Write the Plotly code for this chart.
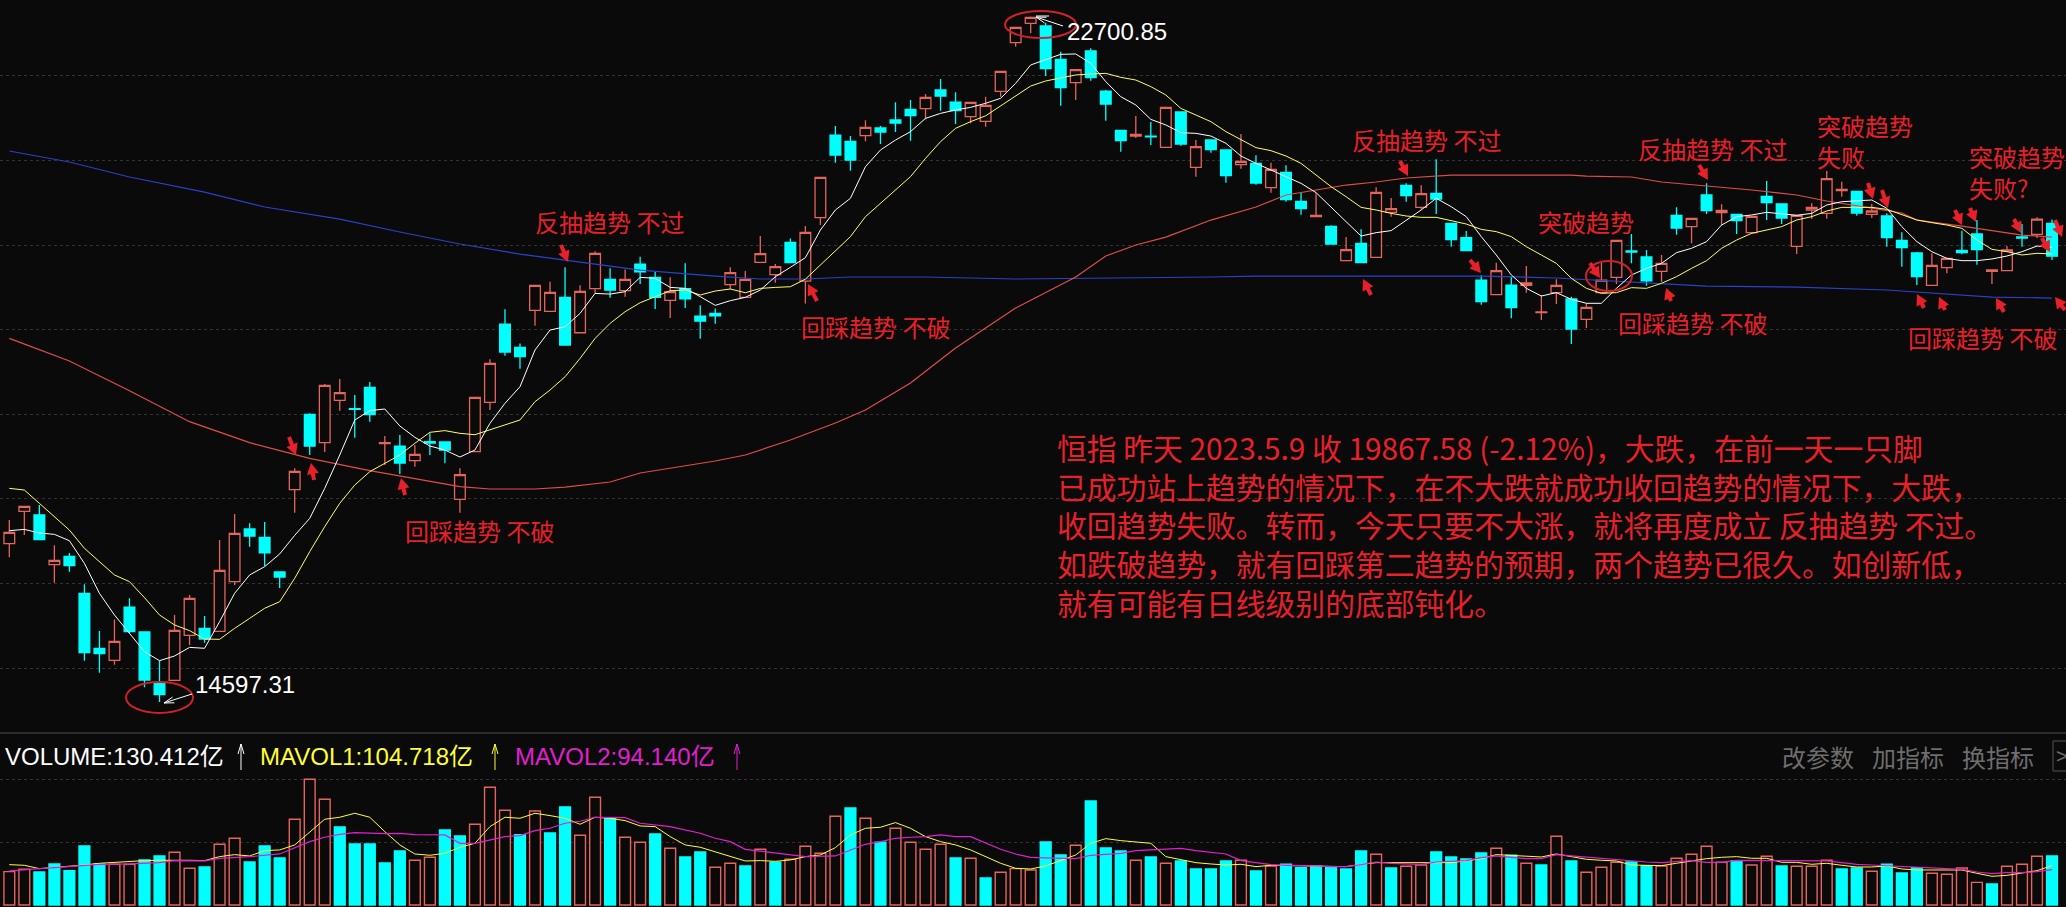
import math

import plotly.graph_objects as go

W, H = 2066, 907
BG = "#0a0a0a"
UP = "#e5645c"
DOWN = "#00ffff"
NOTE = "#e8202a"
CJK = "Noto Sans CJK SC, Liberation Sans, sans-serif"
NUM = "Liberation Sans, Noto Sans CJK SC, sans-serif"

# Daily candles, Hang Seng Index
opens = [
    16470, 16852, 16809, 16222, 16320, 15883, 15233, 15091, 15721, 15426,
    14819, 14854, 15386, 15469, 15434, 16021, 16643, 16545, 16135, 17108,
    17999, 17664, 18164, 18066, 18318, 17652, 17624, 17451, 17675, 17672,
    16994, 17557, 18140, 19066, 18790, 19227, 19216, 19381, 18963, 19484,
    19594, 19460, 19775, 19618, 19346, 19484, 19160, 19192, 19531, 19381,
    19795, 19649, 20031, 19574, 20323, 21300, 21225, 21292, 21383, 21478,
    21604, 21612, 21832, 21690, 21517, 21462, 21816, 22392, 22620, 22589,
    22195, 21919, 22293, 21820, 21355, 21288, 21288, 21155, 21572, 20918,
    21241, 21123, 20950, 20965, 20678, 20859, 20516, 20335, 20221, 19815,
    20020, 19854, 20386, 20705, 20445, 20611, 20256, 20087, 19586, 19413,
    19527, 19523, 19200, 19437, 19362, 19121, 19437, 19618, 19929, 19858,
    19689, 20351, 20217, 20591, 20382, 20363, 20146, 20575, 20485, 19984,
    20414, 20374, 20642, 20634, 20363, 20343, 20055, 19906, 19523, 19732,
    19937, 20130, 19689, 19697, 20095, 20126, 20256,
]
highs = [
    16750, 16911, 16927, 16450, 16360, 15989, 15438, 15575, 15824, 15426,
    15087, 15627, 15863, 15615, 16513, 16821, 16710, 16726, 16135, 17360,
    18010, 18357, 18416, 18227, 18381, 17742, 17754, 17636, 17774, 17672,
    17360, 18200, 18649, 19240, 18837, 19523, 19566, 19736, 19523, 19925,
    19724, 19712, 19862, 19684, 19618, 19783, 19287, 19251, 19736, 19692,
    20106, 19775, 20078, 20224, 20800, 21407, 21288, 21474, 21407, 21686,
    21714, 21785, 21962, 21805, 21686, 21753, 22053, 22573, 22700.85, 22628,
    22285, 22073, 22325, 21832, 21355, 21525, 21454, 21635, 21572, 21241,
    21241, 21123, 21312, 21060, 20973, 20942, 20619, 20611, 20233, 20095,
    20185, 20682, 20556, 20729, 20705, 21013, 20256, 20166, 19642, 19791,
    19626, 19752, 19409, 19594, 19389, 19311, 19795, 20055, 20130, 19941,
    19882, 20445, 20315, 20729, 20481, 20363, 20339, 20757, 20485, 20351,
    20493, 20875, 20749, 20634, 20485, 20374, 20150, 19917, 19902, 19842,
    20170, 20296, 19705, 19988, 20248, 20327, 20303,
]
lows = [
    16308, 16572, 16517, 16009, 16139, 15087, 14945, 15040, 15410, 14772,
    14597.31, 14854, 15272, 15300, 15434, 15981, 16434, 16206, 15946, 16836,
    17518, 17553, 18042, 17723, 17912, 17400, 17293, 17380, 17518, 17419,
    16836, 17557, 18050, 18692, 18538, 19046, 19216, 18810, 18963, 19428,
    19377, 19389, 19539, 19243, 19137, 19255, 18893, 19070, 19476, 19381,
    19795, 19554, 19791, 19310, 20236, 20973, 20879, 21225, 21194, 21336,
    21233, 21485, 21588, 21430, 21438, 21399, 21753, 22344, 22502, 21998,
    21647, 21714, 21943, 21470, 21103, 21265, 21182, 21155, 21174, 20808,
    21091, 20737, 20902, 20713, 20619, 20512, 20359, 20335, 20012, 19815,
    19791, 19854, 20335, 20512, 20422, 20367, 19980, 19925, 19295, 19413,
    19133, 19437, 19114, 19303, 18830, 19019, 19429, 19539, 19783, 19519,
    19563, 20122, 20020, 20367, 20236, 20130, 20130, 20296, 20248, 19894,
    20311, 20311, 20571, 20347, 20319, 19980, 19744, 19527, 19523, 19665,
    19890, 19768, 19539, 19697, 19980, 20083, 19823,
]
closes = [
    16604, 16911, 16517, 16273, 16210, 15181, 15170, 15315, 15430, 14858,
    14685, 15445, 15824, 15343, 16155, 16592, 16560, 16360, 16076, 17325,
    17624, 18341, 18255, 18058, 17995, 17664, 17423, 17526, 17660, 17577,
    17285, 18200, 18601, 18735, 18680, 19523, 19440, 18818, 19452, 19901,
    19468, 19594, 19684, 19381, 19448, 19365, 19101, 19164, 19673, 19594,
    19897, 19744, 19791, 20149, 20800, 21064, 21005, 21391, 21336, 21442,
    21529, 21746, 21761, 21588, 21686, 21651, 22053, 22573, 22691, 22084,
    21860, 22073, 21978, 21667, 21233, 21308, 21277, 21627, 21194, 21162,
    21127, 20820, 20989, 20733, 20894, 20536, 20430, 20351, 20012, 19945,
    19791, 20623, 20430, 20583, 20607, 20544, 20063, 19933, 19330, 19697,
    19259, 19551, 19208, 19523, 19007, 19263, 19586, 20055, 19917, 19575,
    19783, 20201, 20315, 20406, 20410, 20288, 20339, 20500, 20319, 20351,
    20445, 20784, 20658, 20378, 20402, 20087, 19969, 19626, 19760, 19842,
    19909, 19945, 19705, 19941, 20083, 20307, 19867.58,
]

ma_white = [
    16623, 16639, 16596, 16580, 16505, 16237, 15883, 15627, 15410, 15193,
    15087, 15142, 15244, 15233, 15548, 15883, 16100, 16198, 16348, 16568,
    16769, 17124, 17518, 17932, 18042, 18062, 17861, 17727, 17624, 17577,
    17494, 17577, 17892, 18129, 18325, 18759, 18995, 19034, 19192, 19428,
    19420, 19448, 19618, 19606, 19499, 19488, 19389, 19287, 19342, 19381,
    19468, 19625, 19736, 19850, 20177, 20414, 20552, 20926, 21123, 21241,
    21340, 21497, 21556, 21596, 21627, 21675, 21734, 21911, 22128, 22195,
    22254, 22258, 22147, 21931, 21753, 21655, 21485, 21419, 21328, 21320,
    21288, 21202, 21052, 20965, 20887, 20808, 20729, 20619, 20453, 20276,
    20106, 20146, 20170, 20296, 20414, 20552, 20453, 20335, 20099, 19882,
    19646, 19488, 19397, 19437, 19358, 19311, 19311, 19488, 19646, 19724,
    19783, 19910, 19961, 20040, 20236, 20335, 20355, 20386, 20367, 20351,
    20374, 20473, 20512, 20520, 20532, 20434, 20217, 20040, 19921, 19842,
    19815, 19815, 19835, 19870, 19921, 19988, 19972,
]
ma_yellow = [
    17124, 17104, 16947, 16789, 16631, 16415, 16257, 16100, 16021, 15832,
    15627, 15509, 15442, 15343, 15339, 15469, 15587, 15706, 15784, 16060,
    16375, 16671, 16947, 17163, 17321, 17419, 17518, 17656, 17786, 17806,
    17774, 17758, 17813, 17873, 17932, 18148, 18286, 18443, 18660, 18896,
    19074, 19212, 19318, 19389, 19460, 19468, 19409, 19456, 19480, 19436,
    19487, 19499, 19507, 19596, 19764, 19921, 20099, 20335, 20493, 20650,
    20808, 21024, 21222, 21379, 21458, 21527, 21643, 21753, 21879, 21939,
    21970, 22010, 22021, 22029, 21982, 21950, 21872, 21773, 21615, 21537,
    21458, 21340, 21241, 21151, 21115, 21052, 20965, 20828, 20690, 20571,
    20445, 20414, 20374, 20343, 20327, 20327, 20288, 20248, 20185, 20158,
    20099, 19980, 19882, 19783, 19606, 19488, 19429, 19437, 19496, 19488,
    19547, 19626, 19724, 19815, 19961, 20059, 20138, 20177, 20217, 20296,
    20335, 20402, 20445, 20445, 20445, 20422, 20355, 20296, 20264, 20236,
    20197, 20059, 19949, 19921, 19882, 19902, 19894,
]
# Long averages only read at the bends
ma_red_days = [0, 4, 8, 12, 16, 20, 24, 28, 30, 32, 35, 37, 40, 42, 47, 49, 52, 55, 57, 60, 63, 67, 71, 73, 75, 77,
               80, 83, 85, 87, 89, 91, 93, 96, 99, 104, 105, 108, 110, 113, 116, 119, 121, 124, 126, 127, 130, 134, 136]
ma_red = [18897, 18629, 18278, 17912, 17664, 17478, 17333, 17203, 17144, 17116, 17116, 17139, 17199, 17305, 17447,
          17518, 17695, 17896, 18050, 18369, 18782, 19255, 19622, 19870, 20000, 20094, 20295, 20449, 20591, 20650,
          20709, 20745, 20792, 20827, 20827, 20827, 20815, 20804, 20745, 20697, 20650, 20591, 20520, 20437, 20378,
          20295, 20224, 20118, 20094]
ma_blue_days = [0, 4, 8, 13, 17, 22, 26, 30, 34, 37, 42, 47, 50, 53, 56, 61, 67, 80, 83, 91, 98, 103, 108, 113, 119, 125, 132, 136]
ma_blue = [21111, 20981, 20804, 20626, 20449, 20307, 20154, 20012, 19893, 19823, 19704, 19633, 19598, 19598, 19622,
           19622, 19598, 19622, 19633, 19633, 19633, 19610, 19563, 19515, 19503, 19468, 19385, 19373]

# Volume in 亿, R = up day (hollow), C = down day (filled)
volume = [
    88.7, 94.9, 87.8, 109.1, 91.4, 157, 109.1, 108.2, 108.2, 119.7,
    130.4, 140.1, 97.6, 101.1, 161.4, 177.4, 114.4, 157, 125.1, 228,
    334.4, 281.2, 207.6, 162.3, 162.3, 111.8, 143.7, 118.9, 126.8, 199.6,
    183.6, 214.7, 313.1, 251.9, 187.2, 250.1, 191.6, 260.8, 185.4, 286.5,
    230.6, 180.1, 166.8, 188.9, 150.8, 127.7, 141, 100.2, 110.9, 103.8,
    148.1, 113.5, 121.5, 156.1, 137.5, 235.9, 258.1, 230.6, 166.8, 204,
    166.8, 148.1, 161.4, 125.1, 124.2, 71.8, 86.9, 96.7, 93.1, 167.6,
    133, 158.8, 276.7, 151.7, 143.7, 118.9, 127.7, 110.9, 117.1, 95.8,
    95.8, 117.1, 118.9, 90.5, 103.8, 108.2, 99.3, 103.8, 102, 95.8,
    143.7, 134.8, 98.5, 102.9, 106.4, 141, 127.7, 122.4, 138.4, 150.8,
    132.2, 110.9, 106.4, 182.7, 117.1, 86.9, 100.2, 113.5, 114.4, 104.7,
    103.8, 124.2, 134.8, 156.1, 113.5, 118, 106.4, 129.5, 103.8, 102.9,
    102.9, 118.9, 95.8, 98.5, 89.6, 108.2, 85.2, 99.3, 84.3, 81.6,
    98.5, 60.3, 55.9, 102.9, 108.2, 129.5, 130.4,
]
vol_side = (
    "RRCCCCCRRC" "CRRCRRCCCR" "RRCCCCCRRC" "CRRRCRCCRR" "CRRCRCCRRC"
    "RCRRRRCRCR" "RRRCRCRRRC" "CRCCCRCRCC" "CCRCRCCCCC" "CRCRRCCCCR"
    "CRCRCRRRCC" "RRRRRCRRCR" "RRCCRCCCRR" "RRCRRRC"
)
mavol1 = [
    107.3, 105.6, 96.7, 99.3, 102, 106.4, 110.9, 113.5, 115.3, 118,
    118.9, 119.7, 118.9, 118, 128.6, 133.9, 130.4, 144.6, 146.4, 159.7,
    195.1, 228, 233.3, 243.9, 233.3, 195.1, 159.7, 135.7, 132.2, 137.5,
    153.5, 164.1, 208.4, 233.3, 230.6, 243.9, 237.7, 230.6, 214.7, 233.3,
    230.6, 224.4, 210.2, 208.4, 181.8, 159.7, 153.5, 141.9, 128.6, 117.1,
    118, 116.2, 119.7, 128.6, 133, 152.6, 186.3, 204, 206.7, 219.1,
    204, 181.8, 168.5, 159.7, 146.4, 128.6, 110.9, 97.6, 95.8, 103.8,
    118, 133, 164.1, 176.5, 171.2, 168.5, 164.1, 128.6, 121.5, 112.6,
    109.1, 106.4, 108.2, 102, 105.6, 104.7, 102.9, 102, 102, 102,
    108.2, 112.6, 112.6, 112.6, 114.4, 113.5, 112.6, 117.1, 123.3, 133.9,
    132.2, 128.6, 127.7, 135.7, 128.6, 121.5, 118.9, 117.1, 106.4, 104.7,
    104.7, 110.9, 117.1, 123.3, 126.8, 128.6, 124.2, 124.2, 113.5, 113.5,
    108.2, 110.9, 105.6, 101.1, 101.1, 103.8, 95.8, 93.1, 93.1, 93.1,
    93.1, 84.3, 76.3, 78.9, 84.3, 91.4, 104.718,
]
mavol2_days = [0, 2, 4, 6, 8, 10, 11, 13, 14, 16, 18, 20, 21, 22, 23, 25, 26, 27, 29, 30, 31, 33, 34, 35, 36, 37, 38, 39,
               41, 42, 44, 46, 47, 48, 49, 51, 53, 55, 56, 57, 58, 59, 60, 61, 62, 63, 64, 65, 66, 67, 68, 69, 70, 71,
               72, 73, 74, 75, 76, 77, 78, 79, 80, 81, 82, 83, 84, 85, 86, 87, 88, 89, 90, 91, 92, 93, 94, 95, 96, 97,
               98, 99, 100, 101, 102, 103, 104, 105, 106, 107, 108, 109, 110, 111, 112, 113, 114, 115, 116, 117, 118,
               119, 120, 121, 122, 123, 124, 125, 126, 127, 128, 129, 130, 131, 132, 133, 134, 135, 136]
mavol2 = [90.5, 95.8, 102, 108.2, 109.1, 112.6, 118, 117.1, 124.2, 128.6, 135.7, 168.5, 180.1, 188, 192.5, 189.8,
          190.7, 187.2, 186.3, 164.1, 164.1, 181.8, 184.5, 197.8, 204, 217.3, 222.6, 233.3, 232.4, 217.3, 208.4,
          190.7, 177.4, 168.5, 148.1, 137.5, 128.6, 130.4, 146.4, 161.4, 168.5, 177.4, 180.1, 181.8, 186.3, 181.8,
          181.8, 165.9, 148.1, 135.7, 126.8, 125.1, 123.3, 123.3, 132.2, 134.8, 137.5, 144.6, 146.4, 148.1, 150.8,
          144.6, 141, 135.7, 118, 112.6, 107.3, 105.6, 105.6, 103.8, 102, 102, 107.3, 114.4, 110.9, 109.1, 108.2,
          114.4, 116.2, 118, 126, 130.4, 126.8, 123.3, 123.3, 133.9, 130.4, 126.8, 123.3, 121.5, 118, 114.4, 112.6,
          114.4, 118, 113.5, 113.5, 118.9, 118.9, 118.9, 118, 117.1, 117.1, 117.1, 112.6, 108.2, 106.4, 104.7, 102,
          100.2, 97.6, 96.7, 94.9, 87.8, 83.4, 86, 86, 88.7, 94.14]

price_ticks = [15000, 16000, 17000, 18000, 19000, 20000, 21000, 22000]
vol_ticks = [167, 334]

# Hand-drawn notes of the screenshot: text, left edge, centre height (window pixels)
red_labels = [
    ("反抽趋势 不过", 533, 222), ("回踩趋势 不破", 403, 530), ("回踩趋势 不破", 799, 326),
    ("反抽趋势 不过", 1350, 139), ("突破趋势", 1536, 221), ("回踩趋势 不破", 1616, 323),
    ("反抽趋势 不过", 1636, 148), ("突破趋势<br>失败", 1815, 141),
    ("突破趋势<br>失败?", 1967, 172), ("回踩趋势 不破", 1906, 337),
]
comment_lines = [
    "恒指 昨天 2023.5.9 收 19867.58 (-2.12%)，大跌，在前一天一只脚",
    "已成功站上趋势的情况下，在不大跌就成功收回趋势的情况下，大跌，",
    "收回趋势失败。转而，今天只要不大涨，就将再度成立 反抽趋势 不过。",
    "如跌破趋势，就有回踩第二趋势的预期，两个趋势已很久。如创新低，",
    "就有可能有日线级别的底部钝化。",
]
# tip x, tip y, tail x, tail y
red_arrows = [
    (296, 455, 289, 437), (311, 463, 314, 480), (401, 478, 405, 495), (568, 262, 561, 245),
    (808, 284, 817, 301), (1408, 176, 1400, 161), (1363, 279, 1371, 295), (1481, 273, 1470, 260),
    (1600, 278, 1590, 263), (1666, 288, 1671, 301), (1708, 180, 1699, 165), (1873, 199, 1868, 183),
    (1888, 208, 1882, 190), (1962, 225, 1955, 210), (1976, 222, 1970, 208), (2021, 233, 2014, 219),
    (2050, 252, 2042, 238), (2062, 237, 2055, 220), (1917, 294, 1924, 308), (1939, 297, 1945, 310),
    (1996, 298, 2004, 312), (2055, 297, 2065, 310),
]
red_circles = [(126, 682, 193, 713), (1005, 11, 1076, 38), (1586, 261, 1632, 291)]


def px(x):
    return x / W


def py(y):
    return 1 - y / H


def add_text(fig, text, x, y, color, size, font=CJK):
    """Left aligned text centred on window height y."""
    fig.add_annotation(x=px(x), y=py(y), xref="paper", yref="paper", text=text, showarrow=False,
                       xanchor="left", yanchor="middle", align="left",
                       font=dict(family=font, size=size, color=color))


def path_string(points, close=False):
    cmds = [f"{'M' if n == 0 else 'L'} {px(x):.5f} {py(y):.5f}" for n, (x, y) in enumerate(points)]
    return " ".join(cmds) + (" Z" if close else "")


def add_fat_arrow(fig, tip_x, tip_y, tail_x, tail_y, color):
    """Filled marker-pen arrow."""
    length = math.hypot(tail_x - tip_x, tail_y - tip_y)
    ux, uy = (tail_x - tip_x) / length, (tail_y - tip_y) / length
    nx, ny = -uy, ux
    head = 11
    neck_x, neck_y = tip_x + ux * head, tip_y + uy * head
    pts = [
        (tip_x, tip_y),
        (neck_x + nx * 6, neck_y + ny * 6),
        (neck_x + nx * 2, neck_y + ny * 2),
        (tail_x + nx * 2, tail_y + ny * 2),
        (tail_x - nx * 2, tail_y - ny * 2),
        (neck_x - nx * 2, neck_y - ny * 2),
        (neck_x - nx * 6, neck_y - ny * 6),
    ]
    fig.add_shape(type="path", xref="paper", yref="paper", path=path_string(pts, close=True),
                  fillcolor=color, line=dict(color=color, width=0))


def add_thin_arrow(fig, tip_x, tip_y, tail_x, tail_y, color, head=10, spread=3):
    """One pixel arrow with an open head."""
    length = math.hypot(tail_x - tip_x, tail_y - tip_y)
    ux, uy = (tail_x - tip_x) / length, (tail_y - tip_y) / length
    nx, ny = -uy, ux
    neck_x, neck_y = tip_x + ux * head, tip_y + uy * head
    for pts in ([(tip_x, tip_y), (tail_x, tail_y)],
                [(neck_x + nx * spread, neck_y + ny * spread), (tip_x, tip_y),
                 (neck_x - nx * spread, neck_y - ny * spread)]):
        fig.add_shape(type="path", xref="paper", yref="paper", path=path_string(pts),
                      line=dict(color=color, width=1))


days = list(range(len(closes)))
vol_fill = [BG if s == "R" else DOWN for s in vol_side]
vol_line = [UP if s == "R" else DOWN for s in vol_side]

fig = go.Figure()

# Price panel
fig.add_trace(go.Candlestick(
    x=days, open=opens, high=highs, low=lows, close=closes,
    increasing=dict(line=dict(color=UP, width=1.3), fillcolor=BG),
    decreasing=dict(line=dict(color=DOWN, width=1.3), fillcolor=DOWN),
    whiskerwidth=0, showlegend=False,
))
fig.add_trace(go.Scatter(x=ma_blue_days, y=ma_blue, mode="lines", line=dict(color="#2a42c8", width=1.2)))
fig.add_trace(go.Scatter(x=ma_red_days, y=ma_red, mode="lines", line=dict(color="#e04c4a", width=1.2)))
fig.add_trace(go.Scatter(x=days, y=ma_yellow, mode="lines", line=dict(color="#ffff66", width=1)))
fig.add_trace(go.Scatter(x=days, y=ma_white, mode="lines", line=dict(color="#ffffff", width=1)))

# Volume panel
fig.add_trace(go.Bar(x=days, y=volume, yaxis="y2", width=0.72,
                     marker=dict(color=vol_fill, line=dict(color=vol_line, width=1.4))))
fig.add_trace(go.Scatter(x=days, y=mavol1, yaxis="y2", mode="lines", line=dict(color="#ffff33", width=1)))
fig.add_trace(go.Scatter(x=mavol2_days, y=mavol2, yaxis="y2", mode="lines", line=dict(color="#e020d0", width=1.2)))

grid = dict(showgrid=True, gridcolor="#333333", griddash="dot", gridwidth=1, zeroline=False,
            showticklabels=False, ticks="", showline=False)
fig.update_layout(
    width=W, height=H, autosize=False, showlegend=False,
    margin=dict(l=0, r=0, t=0, b=0),
    paper_bgcolor=BG, plot_bgcolor=BG,
    boxgap=0.15, boxgroupgap=0.16,
    xaxis=dict(range=[-0.62, 136.93], visible=False, rangeslider=dict(visible=False)),
    yaxis=dict(domain=[py(733), 1], range=[14232, 22896], tickvals=price_ticks, **grid),
    yaxis2=dict(domain=[0, py(735)], range=[-5.3, 452], tickvals=vol_ticks, **grid),
)

# Panel separator and button box
fig.add_shape(type="line", xref="paper", yref="paper", x0=0, x1=1, y0=py(733), y1=py(733),
              line=dict(color="#2c2c2c", width=2))
fig.add_shape(type="rect", xref="paper", yref="paper", x0=px(2053), x1=px(2075), y0=py(741), y1=py(771),
              line=dict(color="#555555", width=1))

for x0, y0, x1, y1 in red_circles:
    fig.add_shape(type="circle", xref="paper", yref="paper", x0=px(x0), x1=px(x1), y0=py(y0), y1=py(y1),
                  line=dict(color="#d02028", width=2))

for text, x, y in red_labels:
    add_text(fig, text, x, y, NOTE, 24)
add_text(fig, "<br>".join(comment_lines), 1055, 524, NOTE, 29.8)

for tip_x, tip_y, tail_x, tail_y in red_arrows:
    add_fat_arrow(fig, tip_x, tip_y, tail_x, tail_y, NOTE)

# Extreme labels
add_text(fig, "14597.31", 193, 684, "#ffffff", 24, NUM)
add_text(fig, "22700.85", 1065, 32, "#ffffff", 24, NUM)
add_thin_arrow(fig, 164, 703, 192, 694, "#ffffff")
add_thin_arrow(fig, 1036, 17, 1063, 26, "#ffffff")
fig.add_shape(type="line", xref="paper", yref="paper", x0=px(1036), x1=px(1049), y0=py(16), y1=py(16),
              line=dict(color="#ffffff", width=1))

# Volume header
add_text(fig, "VOLUME:130.412亿", 3, 756, "#ffffff", 24, NUM)
add_text(fig, "MAVOL1:104.718亿", 258, 756, "#ffff33", 24, NUM)
add_text(fig, "MAVOL2:94.140亿", 513, 756, "#e020d0", 24, NUM)
add_thin_arrow(fig, 241, 744, 241, 770, "#ffffff")
add_thin_arrow(fig, 495, 744, 495, 770, "#ffff33")
add_thin_arrow(fig, 737, 744, 737, 770, "#e020d0")

add_text(fig, "改参数", 1780, 756, "#6e6e6e", 24)
add_text(fig, "加指标", 1870, 756, "#6e6e6e", 24)
add_text(fig, "换指标", 1960, 756, "#6e6e6e", 24)
add_text(fig, "&gt;", 2054, 756, "#6e6e6e", 20, NUM)

# The page's default body margin would push the figure off the window corner
fig.write_html("out.html", config={"displayModeBar": False},
               post_script=f"document.body.style.margin='0';document.body.style.background='{BG}';")
